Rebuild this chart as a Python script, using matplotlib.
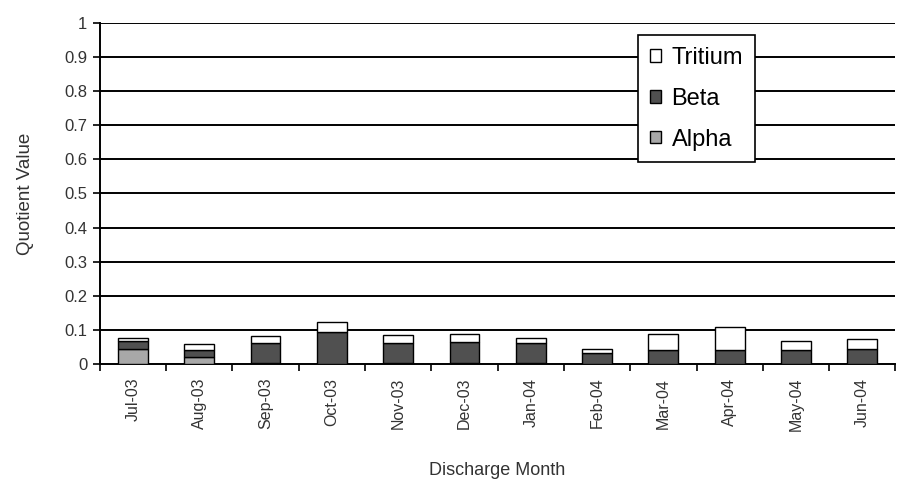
import numpy as np
import matplotlib
matplotlib.use("Agg")
import matplotlib.pyplot as plt

plt.rcParams['font.family'] = ['Liberation Sans', 'DejaVu Sans']

# data
months = ['Jul-03', 'Aug-03', 'Sep-03', 'Oct-03', 'Nov-03', 'Dec-03',
          'Jan-04', 'Feb-04', 'Mar-04', 'Apr-04', 'May-04', 'Jun-04']
alpha = [0.045, 0.020, 0.002, 0.000, 0.002, 0.002, 0.002, 0.000, 0.000, 0.000, 0.000, 0.000]
beta = [0.022, 0.020, 0.060, 0.093, 0.060, 0.063, 0.060, 0.032, 0.040, 0.040, 0.040, 0.045]
tritium = [0.010, 0.019, 0.020, 0.030, 0.022, 0.023, 0.015, 0.013, 0.048, 0.068, 0.027, 0.029]
yticks = [0, 0.1, 0.2, 0.3, 0.4, 0.5, 0.6, 0.7, 0.8, 0.9, 1]
ytick_labels = ['0', '0.1', '0.2', '0.3', '0.4', '0.5', '0.6', '0.7', '0.8', '0.9', '1']

fig = plt.figure(figsize=(8.99, 4.8), dpi=100)
ax = fig.add_axes([0.111, 0.242, 0.885, 0.71])

x = np.arange(len(months))
alpha = np.array(alpha)
beta = np.array(beta)
tritium = np.array(tritium)

w = 0.45
ax.bar(x, alpha, w, color='#a8a8a8', edgecolor='black', linewidth=1.0, label='Alpha', zorder=3)
ax.bar(x, beta, w, bottom=alpha, color='#505050', edgecolor='black', linewidth=1.0, label='Beta', zorder=3)
ax.bar(x, tritium, w, bottom=alpha + beta, color='white', edgecolor='black', linewidth=1.0, label='Tritium', zorder=3)

# horizontal gridlines
for yv in yticks[1:]:
    ax.axhline(yv, color='black', linewidth=1.4, zorder=1)

ax.set_xlim(-0.5, len(months) - 0.5)
ax.set_ylim(0, 1)
ax.set_yticks(yticks)
ax.set_yticklabels(ytick_labels, fontsize=12, color='#333333')

# ticks between categories, labels at centres
ax.set_xticks(np.arange(len(months) + 1) - 0.5)
ax.set_xticklabels([])
ax.set_xticks(x, minor=True)
ax.set_xticklabels(months, minor=True, rotation=90, fontsize=11.5, color='#333333')
ax.tick_params(axis='x', which='minor', length=0, pad=10)
ax.tick_params(axis='x', which='major', length=5, width=1.2, direction='out')
ax.tick_params(axis='y', length=5, width=1.2, direction='out', pad=4)

for s in ['top', 'right']:
    ax.spines[s].set_visible(False)
ax.spines['left'].set_linewidth(1.4)
ax.spines['bottom'].set_linewidth(1.4)

ax.set_xlabel('Discharge Month', fontsize=13, color='#333333', labelpad=22)
ax.set_ylabel('Quotient Value', fontsize=13.5, color='#333333', labelpad=22)

handles, labels = ax.get_legend_handles_labels()
leg = ax.legend(handles[::-1], labels[::-1], loc='upper left',
                bbox_to_anchor=(0.677, 0.965), fontsize=17, frameon=True,
                fancybox=False, edgecolor='black', framealpha=1,
                handlelength=0.45, handleheight=0.45, handletextpad=0.45,
                labelspacing=0.8, borderpad=0.5, borderaxespad=0)
leg.get_frame().set_linewidth(1.2)
leg.set_zorder(5)

fig.savefig('out.png', dpi=100)
